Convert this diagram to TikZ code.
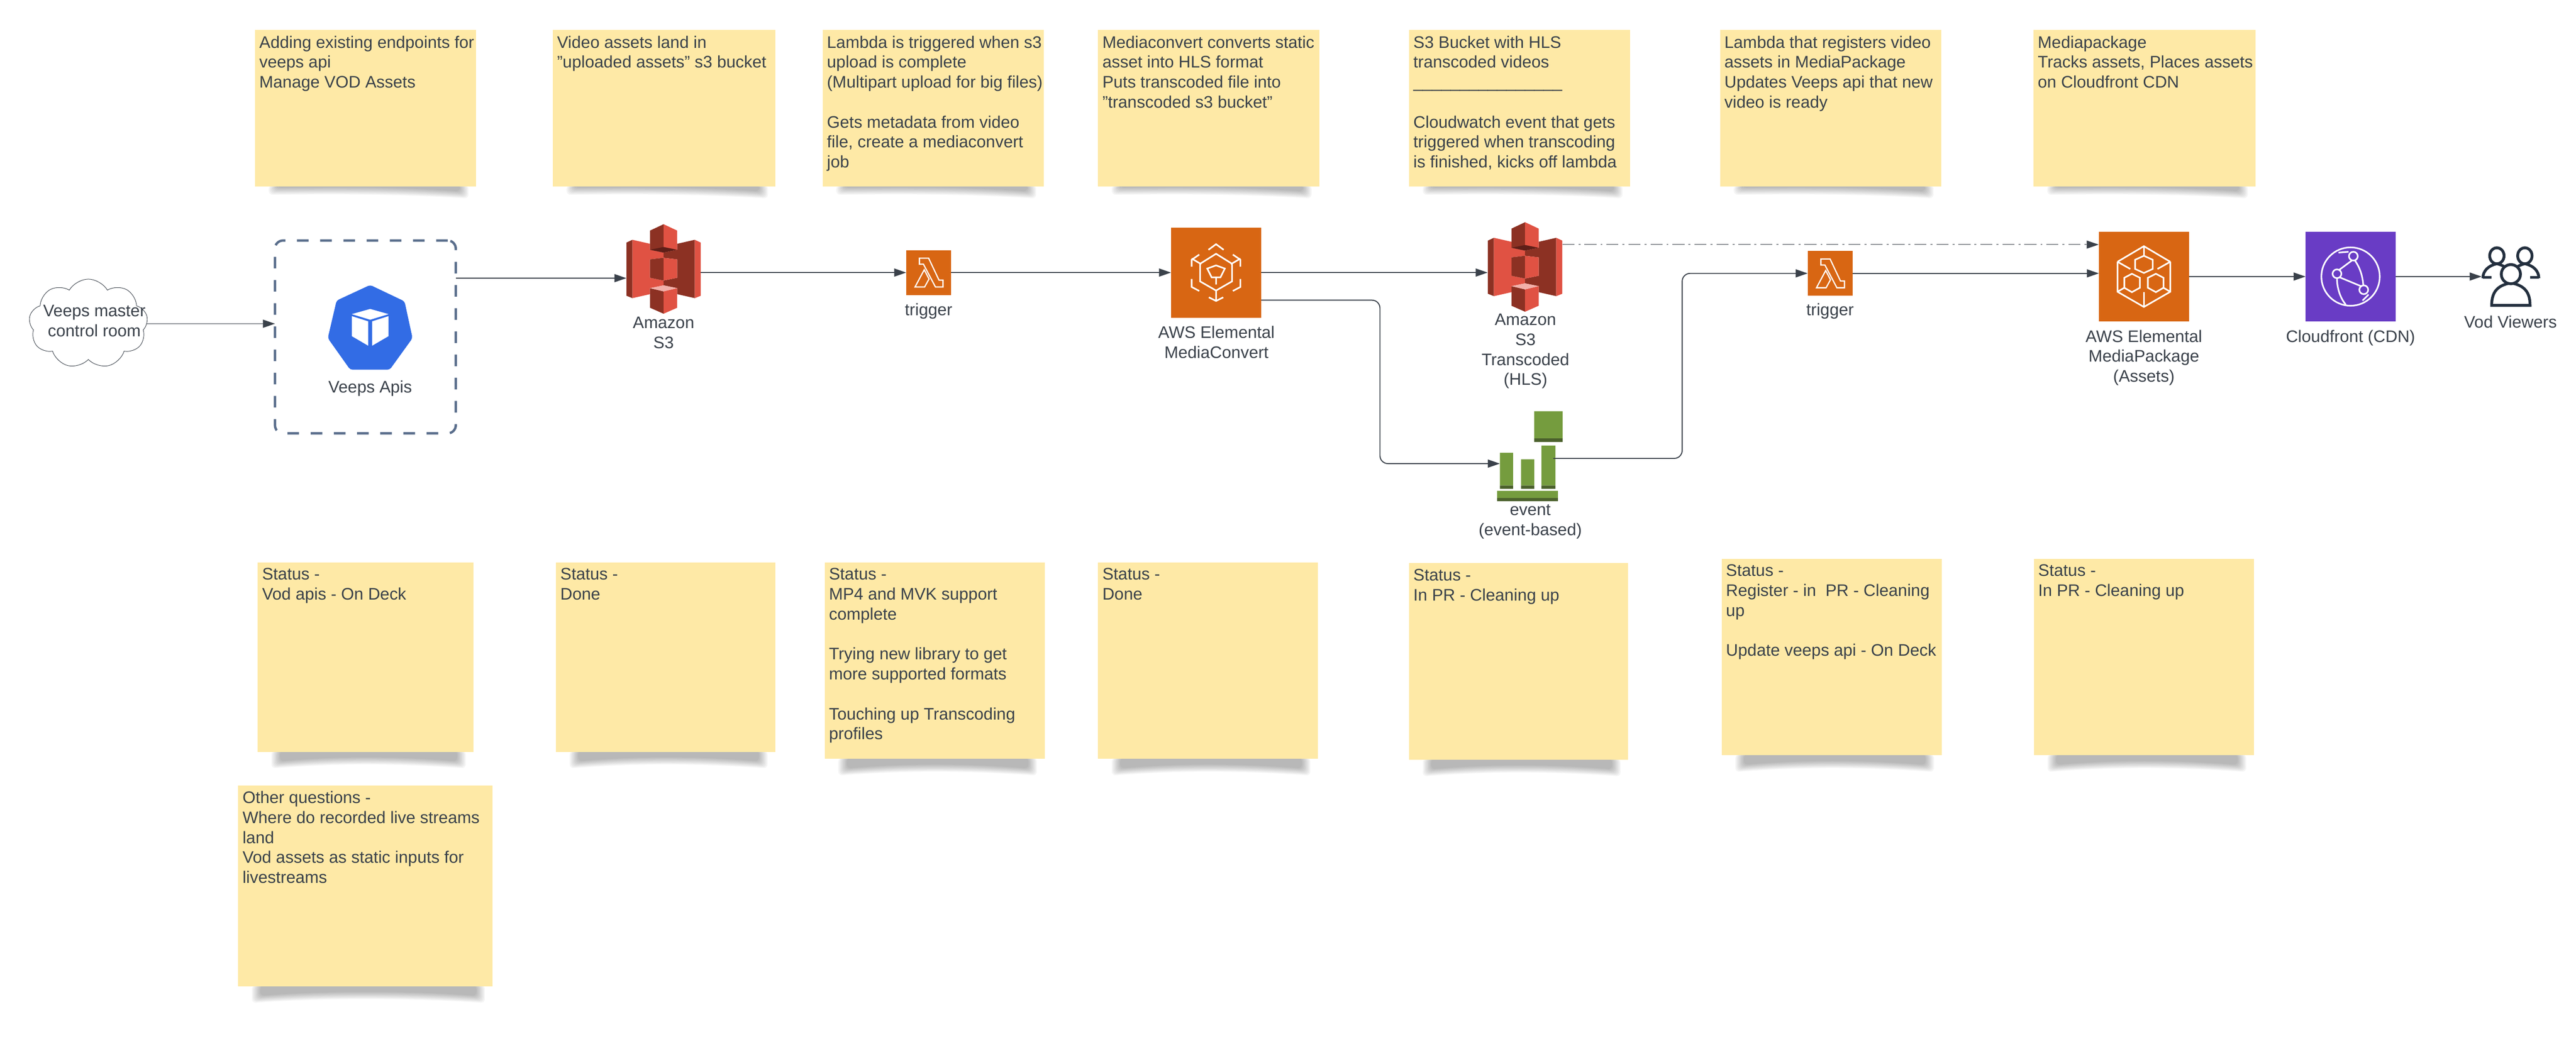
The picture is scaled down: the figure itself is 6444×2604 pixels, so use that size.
\documentclass[tikz,border=0pt]{standalone}
\usepackage{fontspec}
\setmainfont{Liberation Sans}
\usetikzlibrary{arrows.meta,shapes.symbols}

\definecolor{inktext}{HTML}{3A414A}
\definecolor{notefill}{HTML}{FEE9A6}
\definecolor{awsorange}{HTML}{D86613}
\definecolor{cfpurple}{HTML}{693CC5}
\definecolor{kubeblue}{HTML}{326CE5}
\definecolor{boxslate}{HTML}{5A6E8C}
\definecolor{s3light}{HTML}{E05243}
\definecolor{s3dark}{HTML}{8C3123}
\definecolor{s3deep}{HTML}{5E1F18}
\definecolor{s3pale}{HTML}{F2B0A9}
\definecolor{evgreen}{HTML}{759C3E}
\definecolor{evdark}{HTML}{4B612C}
\definecolor{usernavy}{HTML}{232F3E}

\tikzset{
  flow/.style={->,inktext,line width=.025cm},
  notebody/.style={fill=notefill,anchor=north west,inner sep=0pt,outer sep=0pt},
  notetext/.style={anchor=north west,align=left,text=inktext,inner xsep=.1cm,inner ysep=.14cm},
  iconbox/.style={inner sep=0pt,outer sep=0pt},
  caption/.style={align=center,text=inktext,inner sep=0pt},
  glyph/.style={draw=white,line width=.04cm,fill=none},
  s3glyph/.pic={
    \fill[s3dark] (-93,-66) -- (-78,-73) -- (-78,73) -- (-93,67) -- cycle;
    \fill[s3light] (-78,-73) -- (-34,-63) -- (-34,-48) -- (0,-41) -- (0,-28) -- (-34,-24) -- (-34,22)
      -- (0,29) -- (0,41) -- (-34,48) -- (-34,63) -- (-78,73) -- cycle;
    \fill[s3dark] (78,-73) -- (34,-63) -- (34,-48) -- (0,-41) -- (0,-28) -- (34,-24) -- (34,22)
      -- (0,29) -- (0,41) -- (34,48) -- (34,63) -- (78,73) -- cycle;
    \fill[s3light] (78,-73) -- (93,-66) -- (93,67) -- (78,73) -- cycle;
    \fill[s3dark] (-34,-96) -- (0,-112) -- (0,-41) -- (-34,-48) -- cycle;
    \fill[s3light] (34,-96) -- (0,-112) -- (0,-41) -- (34,-48) -- cycle;
    \fill[s3deep] (-34,-48) -- (0,-55) -- (34,-48) -- (0,-41) -- cycle;
    \fill[s3dark] (-34,-24) -- (0,-28) -- (0,29) -- (-34,22) -- cycle;
    \fill[s3light] (34,-24) -- (0,-28) -- (0,29) -- (34,22) -- cycle;
    \fill[s3dark] (-34,48) -- (0,56) -- (0,112) -- (-34,97) -- cycle;
    \fill[s3light] (34,48) -- (0,56) -- (0,112) -- (34,97) -- cycle;
    \fill[s3pale] (-34,48) -- (0,41) -- (34,48) -- (0,56) -- cycle;
  },
  lambdaglyph/.pic={
    \draw[glyph,line width=.03cm] (-23,-36) -- (0,-36) -- (26,19) -- (36,19) -- (36,36) -- (17,36)
      -- (-13,-21) -- (-23,-21) -- cycle;
    \draw[glyph,line width=.03cm] (-11,-7) -- (-34,36) -- (-10,36) -- (1,16) -- cycle;
  },
  convertglyph/.pic={
    \draw[glyph] (-19,-57) -- (0,-71) -- (19,-57);
    \draw[glyph] (0,-47) -- (-40,-22) -- (-40,22) -- (0,45) -- (40,22) -- (40,-22) -- cycle;
    \draw[glyph] (0,-18) -- (-22,-10) -- (-11,12) -- (11,12) -- (22,-10) -- cycle;
    \draw[glyph] (0,12) -- (0,30) (0,45) -- (0,71) (-18,62) -- (0,71) -- (18,62);
    \foreach \s in {1,-1} {
      \draw[glyph] (\s*42,-45) -- (\s*61,-32) -- (\s*61,-15) (\s*61,-35) -- (\s*37,-21);
      \draw[glyph] (\s*61,16) -- (\s*61,36) -- (\s*42,46);
    }
  },
  packageglyph/.pic={
    \draw[glyph] (-66,-37) -- (0,-76) -- (66,-37) (-66,-37) -- (-66,38) -- (0,76) -- (66,38) -- (66,-37);
    \draw[glyph] (0,-76) -- (0,-52) (0,39) -- (0,76);
    \draw[glyph] (0,-52) -- (-22,-42) -- (-22,-19) -- (0,-9) -- (22,-19) -- (22,-42) -- cycle;
    \foreach \s in {1,-1} {
      \draw[glyph] (\s*30,-7) -- (\s*49,3) -- (\s*49,28) -- (\s*30,39) -- (\s*10,28) -- (\s*10,3) -- cycle;
      \draw[glyph] (\s*66,-37) -- (\s*34,-19) (\s*66,38) -- (\s*49,28);
    }
  },
  cdnglyph/.pic={
    \draw[glyph] (0,0) circle (73);
    \draw[glyph] (7,-51) circle (11) (-34,-7) circle (11) (33,33) circle (11);
    \draw[glyph] (3,-40) -- (-28,-17) (-27,2) -- (26,24) (11,-40) .. controls (25,-20) and (30,0) .. (32,22);
    \draw[glyph] (-34,4) .. controls (-34,30) and (-25,55) .. (-12,70) (-30,-60) -- (-5,-62) (30,60) -- (45,45);
  },
  usersglyph/.pic={
    \foreach \s in {1,-1} {
      \draw[usernavy,line width=.07cm,fill=white] (\s*35,-52) ellipse (18 and 20);
      \draw[usernavy,line width=.07cm] (\s*70,4) .. controls (\s*70,-15) and (\s*55,-28) .. (\s*35,-32)
        .. controls (\s*15,-28) and (\s*0,-15) .. (\s*0,4);
      \draw[usernavy,line width=.07cm] (\s*70,2) -- (\s*36,2);
    }
    \fill[white] (-48,-10) rectangle (48,74);
    \draw[usernavy,line width=.07cm,fill=white] (-48,72) .. controls (-48,40) and (-35,22) .. (0,16)
      .. controls (35,22) and (48,40) .. (48,72) -- cycle;
    \draw[usernavy,line width=.07cm,fill=white] (0,-6) circle (24);
  },
  eventglyph/.pic={
    \fill[evgreen] (11,-112) rectangle (82,-44) (-75,-8) rectangle (-42,74)
      (-22,8) rectangle (11,74) (29,-26) rectangle (64,74) (-82,87) rectangle (70,105);
    \fill[evdark] (11,-44) rectangle (82,-35) (-75,74) rectangle (-42,82)
      (-22,74) rectangle (11,82) (29,74) rectangle (64,82) (-82,105) rectangle (70,113);
  },
}

% name, left, top, right, bottom, shadow depth left and right, text
\newcommand{\stickynote}[8]{
  \pgfmathsetmacro\notew{(#4-#2)*0.01}
  \pgfmathsetmacro\noteh{(#5-#3)*0.01}
  \foreach \i in {7,6,5,4,3,2,1,0} {
    \fill[black,opacity=.04,rounded corners=.1cm] (#2+55-\i*3,#5-3) -- (#4-40+\i*3,#5-3)
      -- (#4-40+\i*3,#5+#7+\i*2.5-8) .. controls (#4-200,#5+.3*#6+.3*#7+\i*2.5-8) and (#2+200,#5+.3*#6+.3*#7+\i*2.5-8)
      .. (#2+55-\i*3,#5+#6+\i*2.5-8) -- cycle;
  }
  \node[notebody,minimum width=\notew cm,minimum height=\noteh cm] (#1) at (#2,#3) {};
  \node[notetext] (#1txt) at (#1.north west) {#8};
}

\begin{document}
\begin{tikzpicture}[x=0.01cm,y=-0.01cm,>={Triangle[length=.3cm,width=.2cm]},
    font=\fontsize{11.9}{14.2}\selectfont]
  \useasboundingbox (0,0) rectangle (6444,2604);

  % notes above the flow
  \stickynote{topapi}{638}{75}{1191}{466}{12}{21}{Adding existing endpoints for\\veeps api\\Manage VOD Assets}
  \stickynote{topupload}{1383}{75}{1940}{466}{12}{21}{Video assets land in\\"uploaded assets" s3 bucket}
  \stickynote{toplambda}{2058}{75}{2611}{466}{12}{21}{Lambda is triggered when s3\\upload is complete\\(Multipart upload for big files)\\~\\Gets metadata from video\\file, create a mediaconvert\\job}
  \stickynote{topconvert}{2747}{75}{3300}{466}{12}{21}{Mediaconvert converts static\\asset into HLS format\\Puts transcoded file into\\"transcoded s3 bucket"}
  \stickynote{tophls}{3525}{75}{4078}{466}{12}{21}{S3 Bucket with HLS\\transcoded videos\\\_\_\_\_\_\_\_\_\_\_\_\_\_\_\_\_\\~\\Cloudwatch event that gets\\triggered when transcoding\\is finished, kicks off lambda}
  \stickynote{topregister}{4303}{75}{4856}{466}{12}{21}{Lambda that registers video\\assets in MediaPackage\\Updates Veeps api that new\\video is ready}
  \stickynote{toppackage}{5087}{75}{5642}{466}{12}{21}{Mediapackage\\Tracks assets, Places assets\\on Cloudfront CDN}

  % notes below the flow
  \stickynote{stapi}{645}{1407}{1184}{1881}{32}{32}{Status -\\Vod apis - On Deck}
  \stickynote{stupload}{1391}{1407}{1939}{1881}{32}{32}{Status -\\Done}
  \stickynote{stlambda}{2063}{1407}{2613}{1899}{32}{32}{Status -\\MP4 and MVK support\\complete\\~\\Trying new library to get\\more supported formats\\~\\Touching up Transcoding\\profiles}
  \stickynote{stconvert}{2747}{1407}{3297}{1899}{32}{32}{Status -\\Done}
  \stickynote{sthls}{3525}{1409}{4073}{1901}{32}{32}{Status -\\In PR - Cleaning up}
  \stickynote{stregister}{4307}{1398}{4857}{1890}{32}{32}{Status -\\Register - in\ \ PR - Cleaning\\up\\~\\Update veeps api - On Deck}
  \stickynote{stpackage}{5088}{1398}{5638}{1890}{32}{32}{Status -\\In PR - Cleaning up}
  \stickynote{questions}{596}{1965}{1232}{2468}{32}{32}{Other questions -\\Where do recorded live streams\\land\\Vod assets as static inputs for\\livestreams}

  % flow
  \node[cloud,draw=inktext,line width=.012cm,fill=white,cloud puffs=9,cloud puff arc=120,aspect=1.33,
    minimum width=2.97cm,minimum height=2.23cm,inner sep=0pt] (master) at (221,810) {};
  \node[caption] (mastercap) at (236,803) {Veeps master\\control room};
  \node[iconbox,draw=boxslate,line width=.06cm,rounded corners=.2cm,
    dash pattern=on .29cm off .29cm,minimum width=4.52cm,minimum height=4.82cm] (veeps) at (914,843) {};
  \fill[kubeblue,rounded corners=.06cm] (926,713) -- (1012,754) -- (1032,846) -- (975,925) -- (876,925)
    -- (820,846) -- (842,752) -- cycle;
  \fill[white] (926,773) -- (972,786) -- (926,800) -- (880,786) -- cycle
    (880,791) -- (921,804) -- (921,865) -- (880,841) -- cycle
    (972,791) -- (931,804) -- (931,865) -- (972,841) -- cycle;
  \node[caption] (veepscap) at (926,972) {Veeps Apis};

  \node[iconbox,minimum width=1.86cm,minimum height=2.25cm] (s3up) at (1660,673) {};
  \pic at (s3up) {s3glyph};
  \node[caption] (s3upcap) at (1660,833) {Amazon\\S3};

  \node[iconbox,fill=awsorange,minimum size=1.12cm] (trigup) at (2323,682) {};
  \pic at (trigup) {lambdaglyph};
  \node[caption] (trigupcap) at (2323,778) {trigger};

  \node[iconbox,fill=awsorange,minimum size=2.25cm] (convert) at (3042,682) {};
  \pic at (convert) {convertglyph};
  \node[caption] (convertcap) at (3043,856) {AWS Elemental\\MediaConvert};

  \node[iconbox,minimum width=1.87cm,minimum height=2.25cm] (s3hls) at (3815,668) {};
  \pic at (s3hls) {s3glyph};
  \node[caption] (s3hlscap) at (3816,879) {Amazon\\S3\\Transcoded\\(HLS)};

  \node[iconbox,minimum width=1.64cm,minimum height=2.25cm] (event) at (3827,1141) {};
  \pic at (event) {eventglyph};
  \node[caption] (eventcap) at (3828,1305) {event\\(event-based)};

  \node[iconbox,fill=awsorange,minimum size=1.12cm] (trigreg) at (4578,684) {};
  \pic at (trigreg) {lambdaglyph};
  \node[caption] (trigregcap) at (4578,779) {trigger};

  \node[iconbox,fill=awsorange,minimum size=2.25cm] (package) at (5363,692) {};
  \pic at (package) {packageglyph};
  \node[caption] (packagecap) at (5363,895) {AWS Elemental\\MediaPackage\\(Assets)};

  \node[iconbox,fill=cfpurple,minimum size=2.25cm] (cdn) at (5880,692) {};
  \pic at (cdn) {cdnglyph};
  \node[caption] (cdncap) at (5880,845) {Cloudfront (CDN)};

  \node[iconbox,minimum width=1.46cm,minimum height=1.5cm] (viewers) at (6281,692) {};
  \pic at (viewers) {usersglyph};
  \node[caption] (viewerscap) at (6280,805) {Vod Viewers};

  % connectors
  \coordinate (s3upin) at (1567,696);
  \coordinate (packtop) at (5250,612);
  \coordinate (convout) at (3155,751);
  \coordinate (convdrop) at (3452,950);
  \coordinate (evin) at (3752,1160);
  \coordinate (evout) at (3886,1147);
  \coordinate (evrise) at (4208,900);

  \draw[flow] (master.east) -- (master.east -| veeps.west);
  \draw[flow] (veeps.east |- s3upin) -- (s3upin);
  \draw[flow] (s3up.east |- trigup.west) -- (trigup.west);
  \draw[flow] (trigup.east) -- (convert.west);
  \draw[flow] (convert.east) -- (convert.east -| s3hls.west);
  \draw[flow,line width=.015cm,dash pattern=on .3cm off .1cm on .05cm off .1cm] (s3hls.east |- packtop) -- (packtop);
  \draw[flow,rounded corners=.2cm] (convout) -| (convdrop) |- (evin);
  \draw[flow,rounded corners=.2cm] (evout) -| (evrise) |- (trigreg.west);
  \draw[flow] (trigreg.east) -- (trigreg.east -| package.west);
  \draw[flow] (package.east) -- (cdn.west);
  \draw[flow] (cdn.east) -- (viewers.west);
\end{tikzpicture}
\end{document}
